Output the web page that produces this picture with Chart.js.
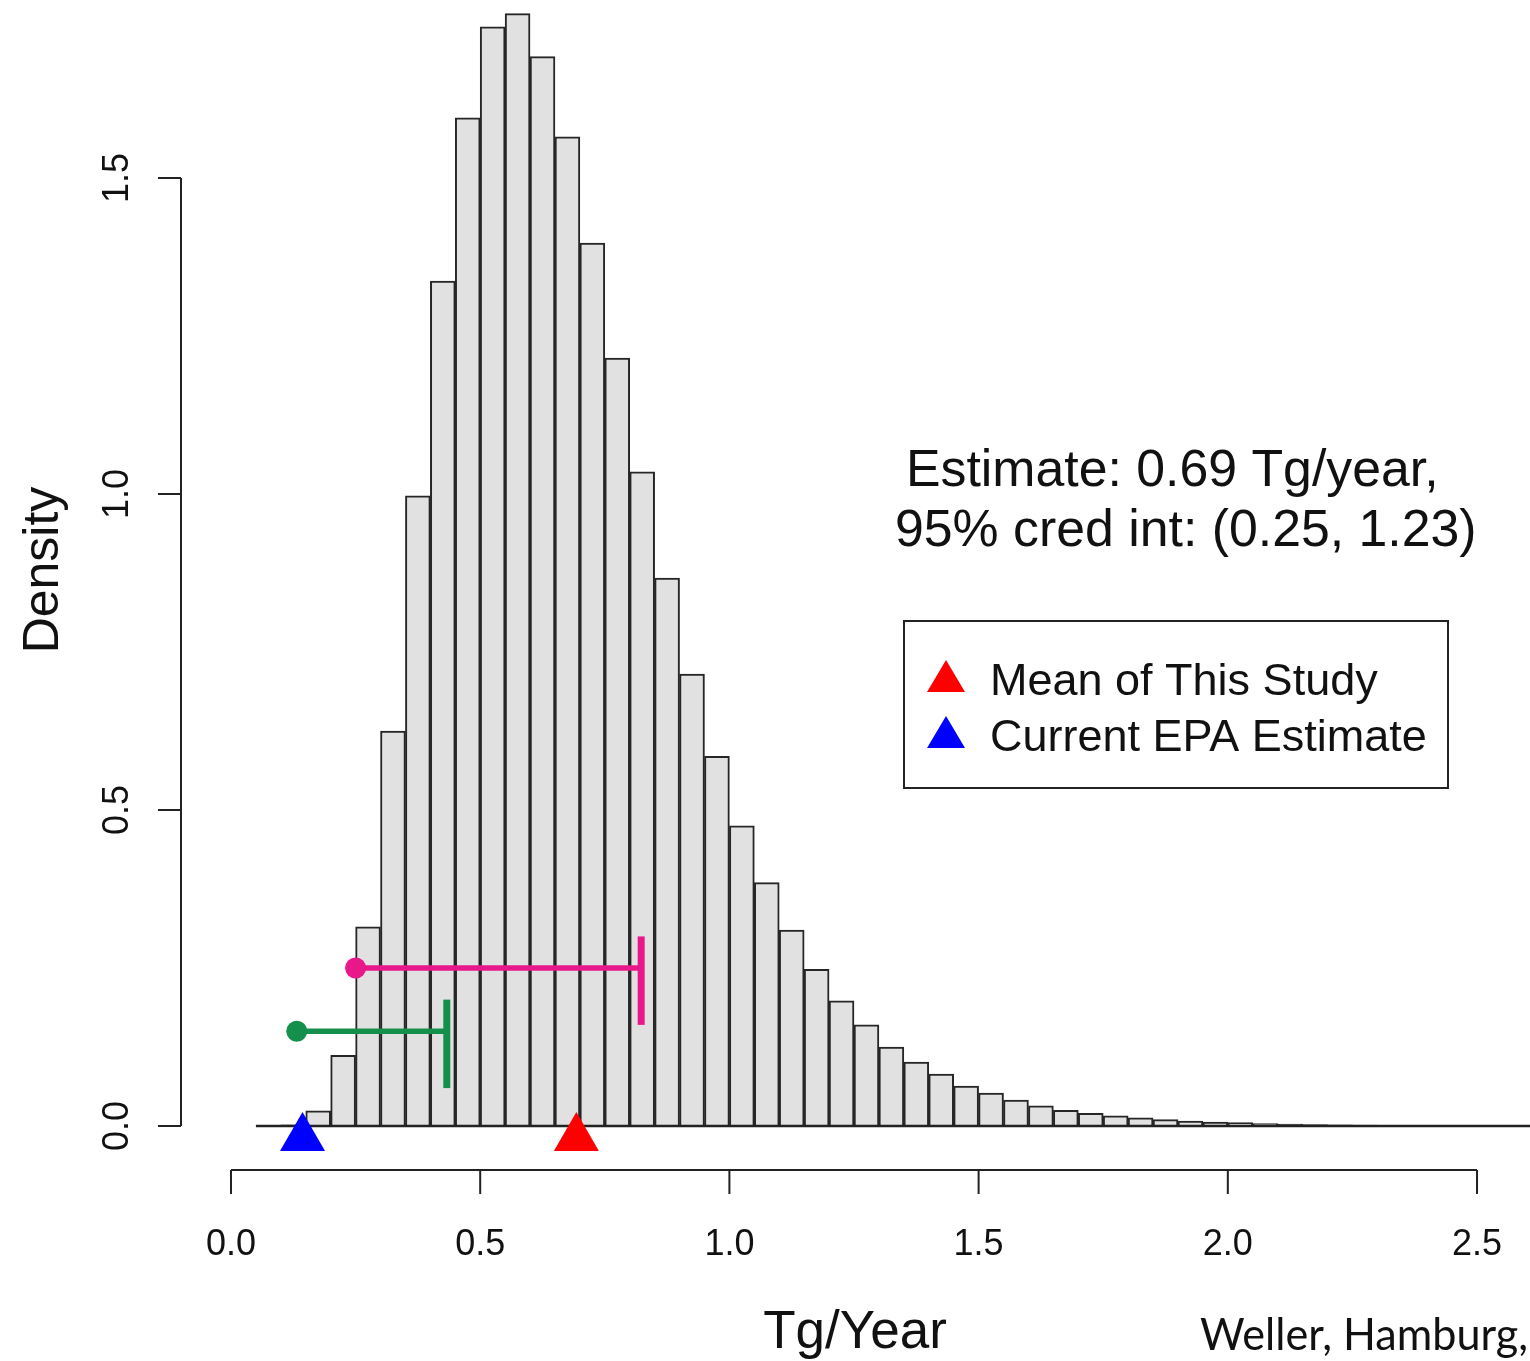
<!DOCTYPE html>
<html>
<head>
<meta charset="utf-8">
<script src="https://cdn.jsdelivr.net/npm/chart.js@4"></script>
<style>
  html, body { margin: 0; padding: 0; background: #fff; }
  #chart { display: block; }
</style>
</head>
<body>
<canvas id="chart" width="1530" height="1361"></canvas>
<script>
// histogram bins: midpoints (Tg/year) and density
const binMids = [0.125, 0.175, 0.225, 0.275, 0.325, 0.375, 0.425, 0.475, 0.525, 0.575,
  0.625, 0.675, 0.725, 0.775, 0.825, 0.875, 0.925, 0.975, 1.025, 1.075,
  1.125, 1.175, 1.225, 1.275, 1.325, 1.375, 1.425, 1.475, 1.525, 1.575,
  1.625, 1.675, 1.725, 1.775, 1.825, 1.875, 1.925, 1.975, 2.025, 2.075,
  2.125, 2.175, 2.225, 2.275, 2.325, 2.375, 2.425, 2.475, 2.525, 2.575, 2.625];
const density = [0.002, 0.024, 0.112, 0.315, 0.625, 0.997, 1.337, 1.595, 1.739, 1.760,
  1.692, 1.565, 1.397, 1.215, 1.035, 0.867, 0.715, 0.585, 0.475, 0.385,
  0.310, 0.248, 0.198, 0.160, 0.125, 0.101, 0.082, 0.063, 0.052, 0.041,
  0.032, 0.025, 0.020, 0.016, 0.013, 0.010, 0.008, 0.0063, 0.0053, 0.0040,
  0.0030, 0.0024, 0.0019, 0.0015, 0.0012, 0.0010, 0.0008, 0.0006, 0.0005, 0.0004, 0.0003];
const histStart = 0.05;
const histEnd = 2.65;

const xTicks = [0.0, 0.5, 1.0, 1.5, 2.0, 2.5];
const yTicks = [0.0, 0.5, 1.0, 1.5];

// triangles under the axis
const meanThisStudy = 0.693;
const epaEstimate = 0.1435;
const markerLevel = -0.019;

// intervals: [start, end, level, capLow, capHigh]
const pinkInterval = [0.25, 0.823, 0.25, 0.16, 0.30];
const greenInterval = [0.132, 0.433, 0.15, 0.06, 0.20];

const legendLabels = ['Mean of This Study', 'Current EPA Estimate'];
const noteLines = ['Estimate: 0.69 Tg/year,', '95% cred int: (0.25, 1.23)'];

const PINK = '#e8188a';
const GREEN = '#148f4c';
const SANS = '"Liberation Sans", Arial, sans-serif';

function intervalSets(iv, color) {
  return [
    { type: 'line', data: [{ x: iv[0], y: iv[2] }, { x: iv[1], y: iv[2] }],
      borderColor: color, borderWidth: 5.5, pointRadius: [10.5, 0],
      pointBackgroundColor: color, pointBorderWidth: 0, borderCapStyle: 'butt', order: 2 },
    { type: 'line', data: [{ x: iv[1], y: iv[3] }, { x: iv[1], y: iv[4] }],
      borderColor: color, borderWidth: 7, pointRadius: 0, borderCapStyle: 'butt', order: 2 }
  ];
}

const rAxes = {
  id: 'rAxes',
  afterDraw(chart) {
    const { ctx, chartArea: a, scales: { x, y } } = chart;
    ctx.save();
    ctx.strokeStyle = '#222';
    ctx.lineWidth = 2;
    ctx.fillStyle = '#111';

    // x axis (detached, R style)
    const ay = a.bottom;
    ctx.beginPath();
    ctx.moveTo(x.getPixelForValue(xTicks[0]), ay);
    ctx.lineTo(x.getPixelForValue(xTicks[xTicks.length - 1]), ay);
    xTicks.forEach(t => {
      const px = x.getPixelForValue(t);
      ctx.moveTo(px, ay);
      ctx.lineTo(px, ay + 24);
    });
    // y axis
    const ax = a.left;
    ctx.moveTo(ax, y.getPixelForValue(yTicks[0]));
    ctx.lineTo(ax, y.getPixelForValue(yTicks[yTicks.length - 1]));
    yTicks.forEach(t => {
      const py = y.getPixelForValue(t);
      ctx.moveTo(ax, py);
      ctx.lineTo(ax - 23, py);
    });
    ctx.stroke();

    ctx.font = '36px ' + SANS;
    ctx.textAlign = 'center';
    ctx.textBaseline = 'alphabetic';
    xTicks.forEach(t => ctx.fillText(t.toFixed(1), x.getPixelForValue(t), 1255));
    yTicks.forEach(t => {
      ctx.save();
      ctx.translate(128, y.getPixelForValue(t));
      ctx.rotate(-Math.PI / 2);
      ctx.fillText(t.toFixed(1), 0, 0);
      ctx.restore();
    });

    // axis titles
    ctx.font = '53px ' + SANS;
    ctx.fillText('Tg/Year', 855, 1348);
    ctx.save();
    ctx.translate(58, 570);
    ctx.rotate(-Math.PI / 2);
    ctx.font = '50px ' + SANS;
    ctx.fillText('Density', 0, 0);
    ctx.restore();

    // estimate note
    ctx.textAlign = 'left';
    ctx.font = '51.8px ' + SANS;
    ctx.fillText(noteLines[0], 906, 486);
    ctx.fillText(noteLines[1], 895, 546);

    // legend box
    ctx.lineWidth = 2;
    ctx.strokeRect(904, 621, 544, 167);
    ctx.font = '45px ' + SANS;
    ctx.fillText(legendLabels[0], 990, 695);
    ctx.fillText(legendLabels[1], 990, 751);
    [['#ff0000', 677], ['#0000ff', 733]].forEach(([c, cy]) => {
      ctx.fillStyle = c;
      ctx.beginPath();
      ctx.moveTo(946, cy - 17);
      ctx.lineTo(965, cy + 15);
      ctx.lineTo(927, cy + 15);
      ctx.closePath();
      ctx.fill();
    });

    // credit line, cut at the right edge
    ctx.fillStyle = '#111';
    ctx.font = '45px Lato, "Open Sans", sans-serif';
    const credit = 'Weller, Hamburg,';
    const w = ctx.measureText(credit).width;
    ctx.save();
    ctx.translate(1200, 1350);
    ctx.scale(328 / w, 1);
    ctx.fillText(credit, 0, 0);
    ctx.restore();

    ctx.restore();
  }
};

new Chart(document.getElementById('chart'), {
  type: 'bar',
  data: {
    datasets: [
      { type: 'scatter', data: [{ x: meanThisStudy, y: markerLevel }],
        pointStyle: 'triangle', pointRadius: 26, backgroundColor: '#ff0000',
        borderWidth: 0, order: 1 },
      { type: 'scatter', data: [{ x: epaEstimate, y: markerLevel }],
        pointStyle: 'triangle', pointRadius: 26, backgroundColor: '#0000ff',
        borderWidth: 0, order: 1 },
      ...intervalSets(pinkInterval, PINK),
      ...intervalSets(greenInterval, GREEN),
      { type: 'line', data: [{ x: histStart, y: 0 }, { x: histEnd, y: 0 }],
        borderColor: '#222', borderWidth: 2.5, pointRadius: 0, order: 5 },
      { type: 'bar', data: binMids.map((m, i) => ({ x: m, y: density[i] })),
        backgroundColor: '#e1e1e1', borderColor: '#262626', borderWidth: 2,
        barPercentage: 1, categoryPercentage: 1, order: 10 }
    ]
  },
  options: {
    responsive: false,
    animation: false,
    devicePixelRatio: 1,
    layout: { autoPadding: false, padding: { left: 181, right: 0, top: 0, bottom: 191 } },
    plugins: { legend: { display: false }, tooltip: { enabled: false } },
    scales: {
      x: { type: 'linear', min: -0.1003, max: 2.6063, offset: false, display: false },
      y: { type: 'linear', min: -0.0696, max: 1.7816, display: false }
    }
  },
  plugins: [rAxes]
});
</script>
</body>
</html>
